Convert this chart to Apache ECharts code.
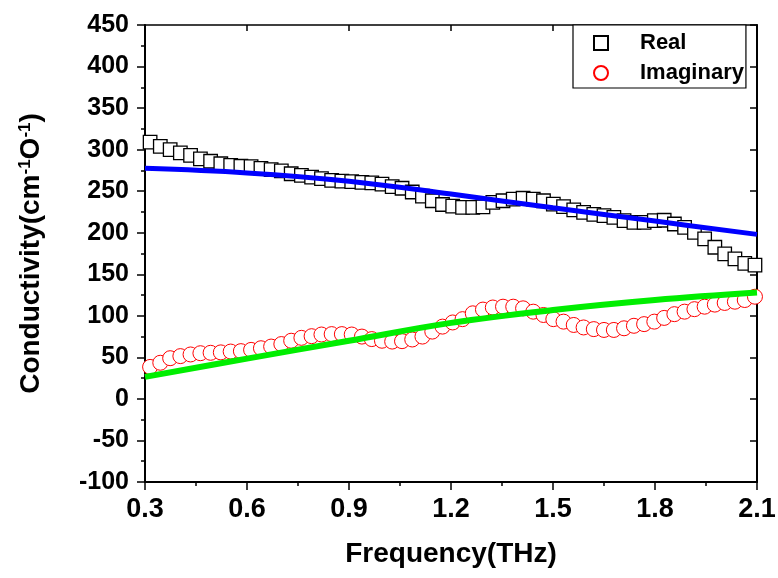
<!DOCTYPE html>
<html>
<head>
<meta charset="utf-8">
<script src="https://cdn.jsdelivr.net/npm/echarts@6/dist/echarts.min.js"></script>
<style>html,body{margin:0;padding:0;background:#fff;}#c{width:778px;height:578px;}</style>
</head>
<body>
<div id="c"></div>
<script>
// Frequency (THz) of each measured point
var freq = [0.315,0.345,0.374,0.404,0.434,0.463,0.493,0.523,0.552,0.582,
            0.612,0.641,0.671,0.701,0.730,0.760,0.790,0.819,0.849,0.879,
            0.908,0.938,0.967,0.997,1.027,1.056,1.086,1.116,1.145,1.175,
            1.205,1.234,1.264,1.294,1.323,1.353,1.383,1.412,1.442,1.472,
            1.501,1.531,1.561,1.590,1.620,1.650,1.679,1.709,1.738,1.768,
            1.798,1.827,1.857,1.887,1.916,1.946,1.976,2.005,2.035,2.064,2.094];
// Real part of conductivity
var realVals = [309,304,300,296,293,289,286,283,281,280,
                279.5,277.5,276,274.5,271,269,267,265,263,262,
                261.5,260.5,260,258.5,255.5,253.5,249,244,238.5,234,
                232,230.5,230.5,231,236.5,238.5,240.5,241.5,240.5,238.5,
                234.5,231.5,227.5,224.5,222,220.5,218.5,214.5,212.5,212.5,
                214.5,215,210.5,206.5,200.5,192.5,182.5,174.5,168.5,163,161];
// Imaginary part of conductivity
var imagVals = [38.5,43.5,49,51.5,53.5,55,55.5,56,57,57.5,
                59,61,63,66,70,73.5,75.5,77.5,78,78,
                77.5,75,72,70,69,69.5,71.5,75,81,87,
                92,96,103,107.5,110,111,111,109,105,101,
                96,93,89,86,84,83,83,85,88,90,
                93,97.5,102,105,108,111,113.5,115.5,117,119,123];
// Fit curves
var fitFreq = [0.3,0.6,0.9,1.2,1.5,1.8,2.1];
var fitReal = [277.5,272,262,246.5,230,214,198];
var fitImag = [26.5,48.5,70,91.5,107,119,128];

var seriesNames = ['Real','Imaginary'];

function pairs(xs, ys){ return xs.map(function(x,i){ return [x, ys[i]]; }); }

var FONT = '"Liberation Sans", Arial, sans-serif';
var chart = echarts.init(document.getElementById('c'), null, {renderer:'canvas'});
chart.setOption({
  backgroundColor:'#ffffff',
  animation:false,
  grid:{left:145, right:21, top:25, bottom:96, outerBoundsMode:'none'},
  legend:{
    data: seriesNames,
    orient:'vertical',
    left:573, top:25,
    padding:[7,2,4,20],
    itemGap:8,
    itemWidth:14, itemHeight:14,
    borderColor:'#000', borderWidth:1.2,
    backgroundColor:'#fff',
    textStyle:{fontFamily:FONT, fontWeight:'bold', fontSize:22, color:'#000', padding:[0,0,0,27]}
  },
  xAxis:[{
    type:'value', min:0.3, max:2.1, interval:0.3,
    name:'Frequency(THz)', nameLocation:'middle', nameGap:58,
    nameTextStyle:{fontFamily:FONT, fontWeight:'bold', fontSize:28, color:'#000'},
    axisLine:{show:true, onZero:false, lineStyle:{color:'#000', width:2}},
    axisTick:{show:true, inside:false, length:8, lineStyle:{color:'#000', width:1.5}},
    minorTick:{show:true, splitNumber:2, length:4, lineStyle:{color:'#000', width:1.5}},
    axisLabel:{fontFamily:FONT, fontWeight:'bold', fontSize:27, color:'#000', margin:14,
               formatter:function(v){return v.toFixed(1);}},
    splitLine:{show:false}
  },{
    type:'value', min:0.3, max:2.1, interval:0.3, position:'top',
    axisLine:{show:true, onZero:false, lineStyle:{color:'#000', width:1.5}},
    axisTick:{show:true, inside:true, length:6, lineStyle:{color:'#000', width:1.5}},
    axisLabel:{show:false}, splitLine:{show:false}
  }],
  yAxis:[{
    type:'value', min:-100, max:450, interval:50,
    name:'Conductivity(cm{sup|-1}O{sup|-1})', nameLocation:'middle', nameGap:100, nameRotate:90,
    nameTextStyle:{fontFamily:FONT, fontWeight:'bold', fontSize:28, color:'#000',
      rich:{sup:{fontFamily:FONT, fontWeight:'bold', fontSize:17, color:'#000', verticalAlign:'top'}}},
    axisLine:{show:true, onZero:false, lineStyle:{color:'#000', width:2}},
    axisTick:{show:true, inside:false, length:8, lineStyle:{color:'#000', width:1.5}},
    minorTick:{show:true, splitNumber:2, length:4, lineStyle:{color:'#000', width:1.5}},
    axisLabel:{fontFamily:FONT, fontWeight:'bold', fontSize:25, color:'#000', margin:16},
    splitLine:{show:false}
  },{
    type:'value', min:-100, max:450, interval:50, position:'right',
    axisLine:{show:true, onZero:false, lineStyle:{color:'#000', width:2}},
    axisTick:{show:true, inside:true, length:7, lineStyle:{color:'#000', width:1.5}},
    axisLabel:{show:false}, splitLine:{show:false}
  }],
  series:[
    {name:'Real', type:'scatter', data:pairs(freq, realVals), symbol:'rect', symbolSize:13.5,
     itemStyle:{color:'#fff', borderColor:'#000', borderWidth:1.3, opacity:1}, z:2},
    {name:'Imaginary', type:'scatter', data:pairs(freq, imagVals), symbol:'circle', symbolSize:15,
     itemStyle:{color:'#fff', borderColor:'#ff0000', borderWidth:1, opacity:1}, z:2},
    {name:'RealFit', type:'line', data:pairs(fitFreq, fitReal), smooth:0.4, showSymbol:false,
     lineStyle:{color:'#0000ff', width:5}, itemStyle:{color:'#0000ff'}, z:5},
    {name:'ImagFit', type:'line', data:pairs(fitFreq, fitImag), smooth:0.4, showSymbol:false,
     lineStyle:{color:'#00ee00', width:6}, itemStyle:{color:'#00ee00'}, z:5}
  ]
});
</script>
</body>
</html>
